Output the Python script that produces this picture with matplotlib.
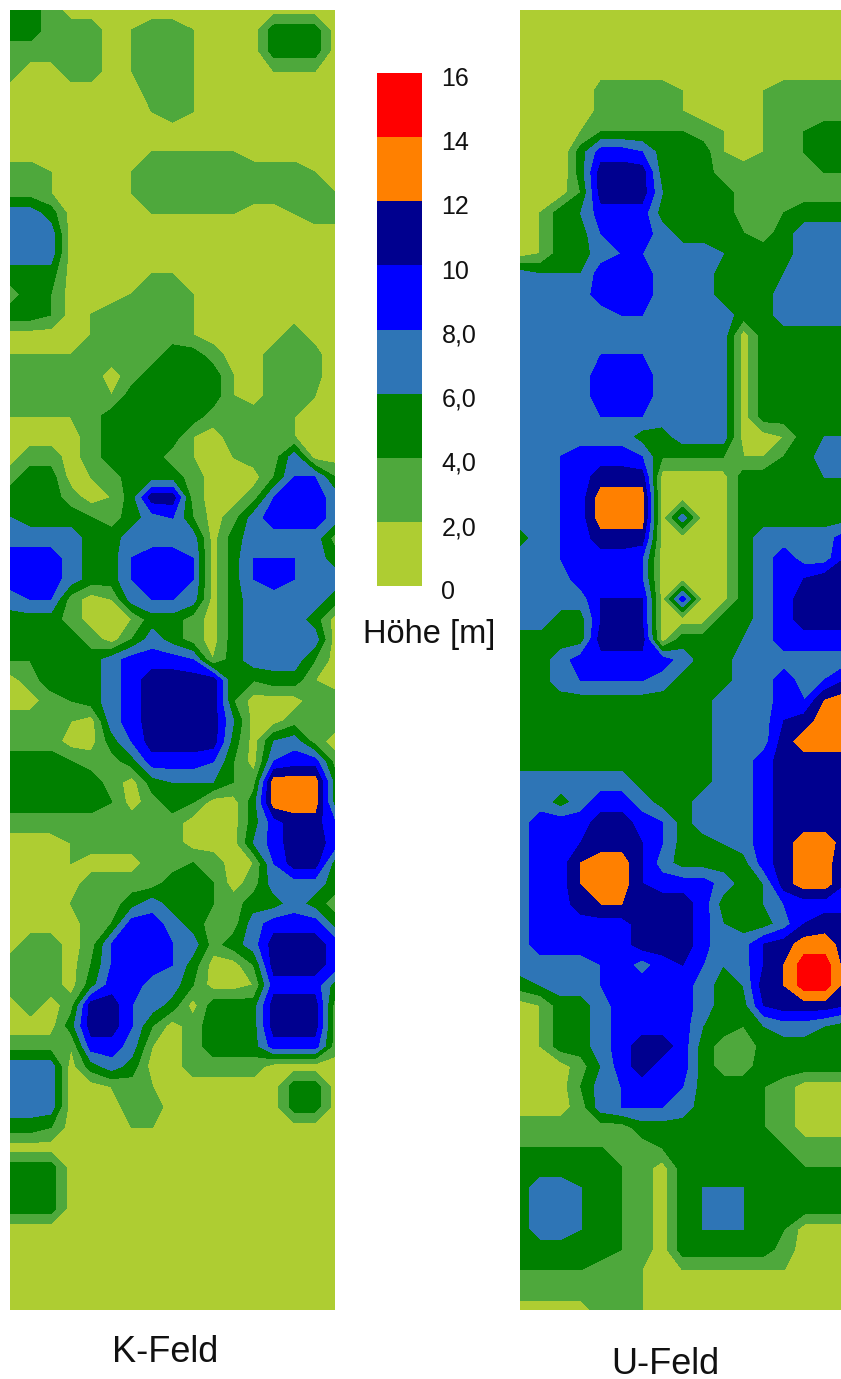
import numpy as np
import matplotlib
matplotlib.use('Agg')
import matplotlib.pyplot as plt

plt.rcParams['font.family'] = ['Liberation Sans', 'DejaVu Sans']

W, H = 841, 1379

# heights in metres, one hex digit per grid point, top row first
k_feld = [
    "55311111111111111", "55333123321115551", "33333123321115551", "31133123321112221",
    "11111113321111111", "11111112321111111", "11111111111111111", "11111112222211111",
    "33211123333333321", "33211123333333332", "77511112222211233", "77711111111111111",
    "77711111111111111", "55511112211111111", "35411123321111111", "55412333321111111",
    "11112333321111311", "22223333553113330", "33333135555213330", "33333255555213320",
    "22223555553333211", "11113555521333211", "13313555321233711", "35512355531114884",
    "5553125bb31138997", "65554357841379997", "77775577771577773", "99975589981588875",
    "99975589981589877", "78831278871577775", "55531125531577751", "55553147531577771",
    "44555799982577741", "1355579bbbb445521", "1134579bbbb411133", "3332179bbbb611333",
    "3331158bbbb516731", "55543359998418993", "5555531566643ddd5", "5555541354115ddd5",
    "33333333311159bb8", "11123333311169bb9", "11121113343128bb5", "11113333554137775",
    "11123357554355753", "11113499753379995", "1331389987357bbb9", "3331489985114bbb9",
    "33315997741129995", "1313bb8751555bbb3", "1115bb8413555bbb3", "33329972135559993",
    "77715751133331111", "77711232111111551", "77711133111111551", "55411122111111111",
    "11111111111111111", "55511111111111111", "55511111111111111", "55511111111111111",
    "11111111111111111", "11111111111111111", "11111111111111111", "11111111111111111",
    "11111111111111111",
]
u_feld = [
    "11111111111111111", "11111111111111111", "11111111111111111", "11111111111111111",
    "11103333211123333", "11103333211123333", "11124444432123455", "11059985552123455",
    "1105bbb5553333344", "1114bbb6555333333", "12569995555334555", "12558997555435777",
    "12557887776555777", "76669997775556777", "77779997775557777", "77777887777557777",
    "77777777777155555", "77778887777155555", "77779997777155555", "77779997777155555",
    "77778887777155555", "77777755777112566", "77899984444224577", "7789bbb1111555566",
    "7789ddd1111555555", "7789ddd1711555555", "5789bbb1111577779", "7789998111157977a",
    "77799981111579abb", "7777aaa1911579bbb", "7755aba1115579bbb", "5555bbb1555679999",
    "55799999755777777", "5578888755577978a", "555555555577798cd", "5555555555777abdd",
    "5555555555777bddd", "5555555555779bbbb", "7777775555779bbbb", "7757997557779bbbb",
    "7999bb9857779bbbb", "799abba855679bddb", "799cdda755559bdda", "799cdda999756bdda",
    "799bccbbb95568999", "799999bbb96557abb", "799999bbb967abddb", "77778979a867acffb",
    "567789999756bcffb", "125579999755abbba", "12557999965467765", "125579bb953255555",
    "111369b9953355555", "11147899855543111", "11137888755543111", "33333355555543111",
    "44444334555554333", "55555431555555444", "57765431566655555", "57765431567655555",
    "57765431566654111", "55555431555553111", "44443321222222111", "33333321111111111",
    "11113321111111111",
]

levels = [0, 2, 4, 6, 8, 10, 12, 14, 16]
level_labels = ['0', '2,0', '4,0', '6,0', '8,0', '10', '12', '14', '16']
colors = ['#aecd32', '#4ea83c', '#008000', '#2e75b6', '#0000ff', '#00008f', '#ff8000', '#ff0000']


def to_grid(rows):
    # tiny nudge so a point sitting exactly on a level counts into the band above it
    return np.array([[int(ch, 16) for ch in row] for row in rows], dtype=float) + 0.01


def axes_px(fig, left, top, right, bottom):
    return fig.add_axes([left / W, 1 - bottom / H, (right - left) / W, (bottom - top) / H])


def draw_field(fig, rows, box):
    ax = axes_px(fig, *box)
    z = to_grid(rows)
    cs = ax.contourf(np.arange(z.shape[1]), np.arange(z.shape[0]), z, levels=levels, colors=colors)
    cs.set_edgecolor('face')
    cs.set_linewidth(0.3)
    ax.set_xlim(0, z.shape[1] - 1)
    ax.set_ylim(z.shape[0] - 1, 0)
    ax.axis('off')


fig = plt.figure(figsize=(W / 100, H / 100), dpi=100)

draw_field(fig, k_feld, (10, 10, 335, 1310))
draw_field(fig, u_feld, (520, 10, 845, 1310))

# legend bar
cax = axes_px(fig, 377, 73, 422, 586)
cax.barh(levels[:-1], 1, height=2, align='edge', color=colors)
cax.set_xlim(0, 1)
cax.set_ylim(levels[0], levels[-1])
cax.axis('off')
for lev, lab in zip(levels, level_labels):
    cax.annotate(lab, (1, lev), xycoords=('axes fraction', 'data'), xytext=(14, -4.5),
                 textcoords='offset points', va='center', ha='left', fontsize=18, color='#111111')

fig.text(429 / W, 1 - 634 / H, 'Höhe [m]', ha='center', va='center', fontsize=23.5, color='#111111')
fig.text(165 / W, 1 - 1352 / H, 'K-Feld', ha='center', va='center', fontsize=26, color='#111111')
fig.text(665 / W, 1 - 1364 / H, 'U-Feld', ha='center', va='center', fontsize=26, color='#111111')

fig.savefig('out.png', dpi=100)
